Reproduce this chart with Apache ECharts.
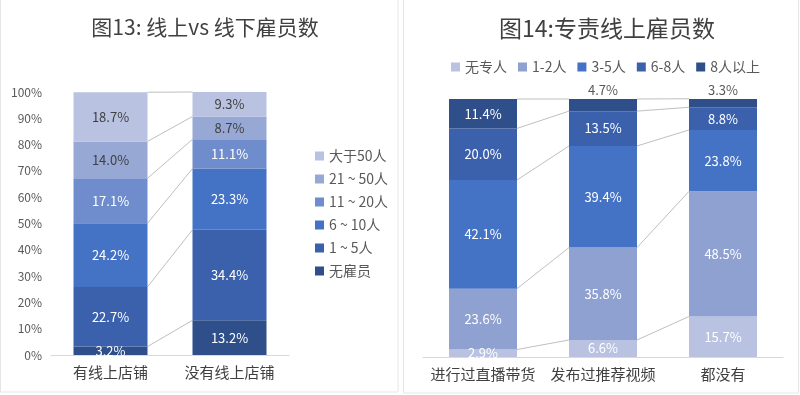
<!DOCTYPE html>
<html>
<head>
<meta charset="utf-8">
<script src="https://cdn.jsdelivr.net/npm/echarts@6/dist/echarts.min.js"></script>
<style>
html,body{margin:0;padding:0;background:#fff;}
#c{width:800px;height:395px;}
</style>
</head>
<body>
<div id="c"></div>
<script>
// ---- Data: chart 13 ----
var cats13 = ['有线上店铺', '没有线上店铺'];
var names13 = ['无雇员', '1 ~ 5人', '6 ~ 10人', '11 ~ 20人', '21 ~ 50人', '大于50人'];
var s13_none = [3.2, 13.2];
var s13_1_5 = [22.7, 34.4];
var s13_6_10 = [24.2, 23.3];
var s13_11_20 = [17.1, 11.1];
var s13_21_50 = [14.0, 8.7];
var s13_50p = [18.7, 9.3];
var yTicks13 = [0, 10, 20, 30, 40, 50, 60, 70, 80, 90, 100];

// ---- Data: chart 14 ----
var cats14 = ['进行过直播带货', '发布过推荐视频', '都没有'];
var names14 = ['无专人', '1-2人', '3-5人', '6-8人', '8人以上'];
var s14_none = [2.9, 6.6, 15.7];
var s14_1_2 = [23.6, 35.8, 48.5];
var s14_3_5 = [42.1, 39.4, 23.8];
var s14_6_8 = [20.0, 13.5, 8.8];
var s14_8p = [11.4, 4.7, 3.3];

var data13 = [s13_none, s13_1_5, s13_6_10, s13_11_20, s13_21_50, s13_50p];
var data14 = [s14_none, s14_1_2, s14_3_5, s14_6_8, s14_8p];

var colors13 = ['#2f4f8b', '#3b61ad', '#4472c4', '#6f8dcc', '#97a8d5', '#b9c3e1'];
var labelColors13 = ['#fff', '#fff', '#fff', '#fff', '#404040', '#404040'];
var colors14 = ['#b9c3e1', '#8fa1d1', '#4472c4', '#3b61ad', '#2f4f8b'];

var FONT = '"Noto Sans CJK SC", "Noto Sans", sans-serif';
var BW13 = 74, BW14 = 68;

function cumulative(arrs) {
  var out = [];
  var n = arrs[0].length;
  var run = [];
  for (var j = 0; j < n; j++) run.push(0);
  for (var k = 0; k < arrs.length; k++) {
    for (var j = 0; j < n; j++) run[j] += arrs[k][j];
    out.push(run.slice());
  }
  return out;
}

function connectorData(arrs) {
  var cum = cumulative(arrs);
  var d = [];
  for (var k = 0; k < cum.length; k++) {
    for (var j = 0; j < cum[k].length - 1; j++) {
      d.push([j, cum[k][j], cum[k][j + 1]]);
    }
  }
  return d;
}

function connectorSeries(arrs, axisIdx, bw) {
  return {
    type: 'custom',
    xAxisIndex: axisIdx,
    yAxisIndex: axisIdx,
    silent: true,
    z: 1,
    data: connectorData(arrs),
    encode: { x: 0, y: 1 },
    renderItem: function (params, api) {
      var i = api.value(0);
      var p1 = api.coord([i, api.value(1)]);
      var p2 = api.coord([i + 1, api.value(2)]);
      return {
        type: 'line',
        shape: { x1: p1[0] + bw / 2, y1: p1[1], x2: p2[0] - bw / 2, y2: p2[1] },
        style: { stroke: '#bfbfbf', lineWidth: 1 }
      };
    }
  };
}

var series = [];
for (var k = 0; k < data13.length; k++) {
  series.push({
    name: names13[k],
    type: 'bar',
    stack: 's13',
    xAxisIndex: 0,
    yAxisIndex: 0,
    barWidth: BW13,
    data: data13[k],
    itemStyle: { color: colors13[k] },
    label: {
      show: true,
      position: 'inside',
      color: labelColors13[k],
      fontSize: 13,
      fontFamily: FONT,
      formatter: function (p) { return p.value.toFixed(1) + '%'; }
    }
  });
}
series.push(connectorSeries(data13, 0, BW13));

for (var k = 0; k < data14.length; k++) {
  (function (k) {
    series.push({
      name: names14[k],
      type: 'bar',
      stack: 's14',
      xAxisIndex: 1,
      yAxisIndex: 1,
      barWidth: BW14,
      data: data14[k].map(function (v) {
        var o = { value: v };
        if (k === data14.length - 1 && v < 6) {
          o.label = { position: 'top', color: '#595959', distance: 2 };
        }
        return o;
      }),
      itemStyle: { color: colors14[k] },
      label: {
        show: true,
        position: 'inside',
        color: '#fff',
        fontSize: 13,
        fontFamily: FONT,
        formatter: function (p) { return p.value.toFixed(1) + '%'; }
      }
    });
  })(k);
}
series.push(connectorSeries(data14, 1, BW14));

var option = {
  animation: false,
  backgroundColor: '#fff',
  textStyle: { fontFamily: FONT },
  graphic: [
    { type: 'rect', shape: { x: 0.5, y: -2, width: 397.5, height: 394 }, style: { fill: 'none', stroke: '#e6e6e6', lineWidth: 1 }, silent: true },
    { type: 'rect', shape: { x: 403.5, y: -2, width: 395, height: 395 }, style: { fill: 'none', stroke: '#e6e6e6', lineWidth: 1 }, silent: true }
  ],
  title: [
    { text: '图13: 线上vs 线下雇员数', left: 200, top: 12, textAlign: 'center',
      textStyle: { fontSize: 21, fontWeight: 'normal', color: '#404040', fontFamily: FONT } },
    { text: '图14:专责线上雇员数', left: 602, top: 12, textAlign: 'center',
      textStyle: { fontSize: 23, fontWeight: 'normal', color: '#404040', fontFamily: FONT } }
  ],
  legend: [
    {
      orient: 'vertical', left: 310, top: 144, itemWidth: 9, itemHeight: 9, itemGap: 9,
      icon: 'rect',
      data: names13.slice().reverse(),
      textStyle: { fontSize: 14, color: '#595959', fontFamily: FONT }
    },
    {
      orient: 'horizontal', left: 446, top: 55, itemWidth: 9, itemHeight: 9, itemGap: 11,
      icon: 'rect',
      data: names14,
      textStyle: { fontSize: 14, color: '#595959', fontFamily: FONT }
    }
  ],
  grid: [
    { left: 51, width: 238, top: 92, height: 263 },
    { left: 423, width: 360, top: 99, height: 258 }
  ],
  xAxis: [
    { type: 'category', gridIndex: 0, data: cats13,
      axisLine: { lineStyle: { color: '#d9d9d9' } }, axisTick: { show: false },
      axisLabel: { interval: 0, fontSize: 15, color: '#404040', margin: 10, fontFamily: FONT } },
    { type: 'category', gridIndex: 1, data: cats14,
      axisLine: { lineStyle: { color: '#d9d9d9' } }, axisTick: { show: false },
      axisLabel: { interval: 0, fontSize: 15, color: '#404040', margin: 10, fontFamily: FONT } }
  ],
  yAxis: [
    { type: 'value', gridIndex: 0, min: yTicks13[0], max: yTicks13[yTicks13.length - 1], interval: 10,
      splitLine: { show: false }, axisLine: { show: false }, axisTick: { show: false },
      axisLabel: { fontSize: 12, color: '#595959', margin: 9, formatter: '{value}%', fontFamily: FONT } },
    { type: 'value', gridIndex: 1, min: 0, max: 100, show: false, splitLine: { show: false } }
  ],
  series: series
};

var chart = echarts.init(document.getElementById('c'), null, { renderer: 'canvas' });
chart.setOption(option);
</script>
</body>
</html>
